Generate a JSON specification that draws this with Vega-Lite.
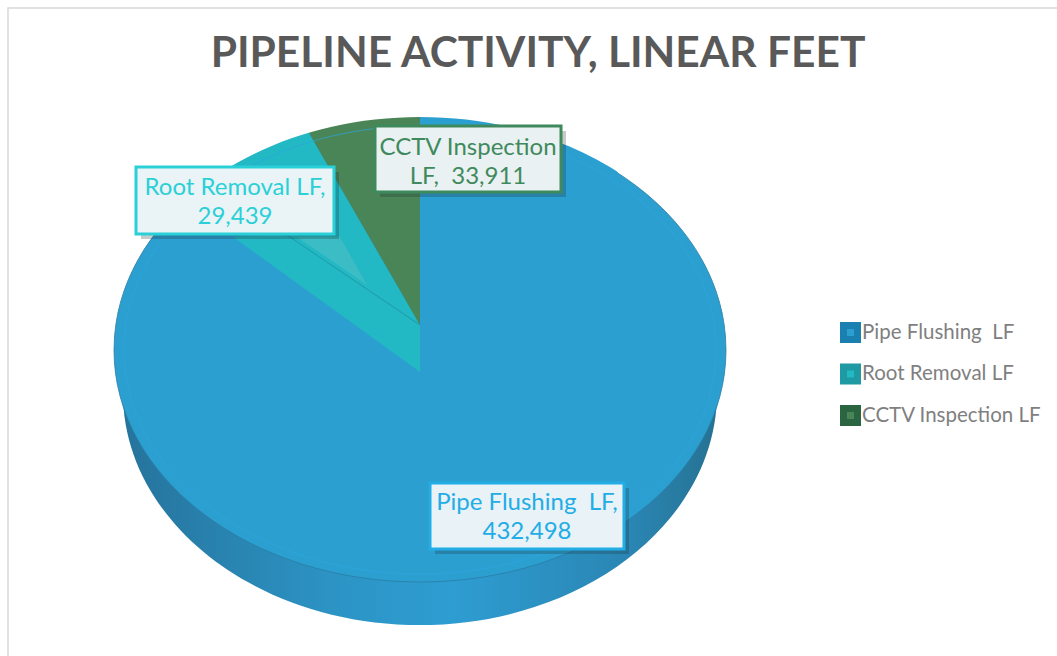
{"$schema":"https://vega.github.io/schema/vega-lite/v6.json","width":840,"height":474,"autosize":"none","padding":{"left":0,"top":88,"right":217,"bottom":94},"background":"#ffffff","view":{"stroke":null},
"title":{"text":"PIPELINE ACTIVITY, LINEAR FEET","font":"Lato","fontSize":42.5,"fontWeight":"bold","color":"#595959","anchor":"middle","frame":"group","dx":118,"offset":-113,"baseline":"bottom"},
"data":{"values":[{"slice":"Pipe Flushing \u00a0LF","lf":432498,"rank":3,"label":"Pipe Flushing \u00a0LF,\n432,498"},{"slice":"Root Removal LF","lf":29439,"rank":2,"label":"Root Removal LF,\n29,439"},{"slice":"CCTV Inspection LF","lf":33911,"rank":1,"label":"CCTV Inspection\nLF, \u00a033,911"}]},
"layer":[
{"transform":[{"filter":{"field":"rank","equal":3}}],"mark":{"type":"point","filled":true,"opacity":1,"size":4,"shape":"M-306,23 L-297,68 A297,232 0 0 0 297,68 L306,23 Z","fill":{"x1":0,"y1":0,"x2":1,"y2":0,"gradient":"linear","stops":[{"offset":0,"color":"#25729a"},{"offset":0.35,"color":"#2c93c4"},{"offset":0.55,"color":"#2e9dd2"},{"offset":0.85,"color":"#2a85b2"},{"offset":1,"color":"#25708f"}]}}},
{"transform":[{"filter":{"field":"rank","equal":3}}],"mark":{"type":"point","filled":true,"opacity":1,"size":4,"fill":"#2c9fd1","stroke":"#2b7ca3","strokeWidth":0.8,"shape":"M-306,25 A306,232 0 1 1 306,25 A306,232 0 1 1 -306,25 Z"}},
{"mark":{"type":"arc","outerRadius":250,"strokeWidth":0,"opacity":1},"encoding":{"theta":{"field":"lf","type":"quantitative","stack":true,"scale":{"domain":[0,495848],"range":[0,-7.665]}},"order":{"field":"rank","type":"quantitative"},"fill":{"field":"slice","type":"nominal","sort":null,"scale":{"domain":["Pipe Flushing \u00a0LF","Root Removal LF","CCTV Inspection LF"],"range":["#2c9fd1","#22b8c4","#4a8558"]},"legend":{"title":null,"orient":"none","legendX":840,"legendY":234,"symbolType":"square","symbolSize":196,"symbolStrokeWidth":7,"labelFont":"Lato","labelFontSize":20.5,"labelColor":"#7f7f7f","labelOffset":1,"rowPadding":-1.5,"labelLimit":220}},"stroke":{"field":"slice","type":"nominal","sort":null,"scale":{"domain":["Pipe Flushing \u00a0LF","Root Removal LF","CCTV Inspection LF"],"range":["#1a80b0","#1f9aa3","#2b6440"]}}}},
{"transform":[{"filter":{"field":"rank","equal":3}}],"mark":{"type":"point","filled":true,"opacity":1,"size":4,"fill":"#ffffff","shape":"M-307,25 A307,233 0 0 1 307,25 L307,-255 L-307,-255 Z"}},
{"transform":[{"filter":{"field":"rank","equal":2}}],"mark":{"type":"point","filled":true,"opacity":1,"size":4,"fill":"#22b8c4","shape":"M0,47 L0,0 L-136,-92 L-187,-88 Z"}},
{"transform":[{"filter":{"field":"rank","equal":2}}],"mark":{"type":"point","filled":true,"opacity":1,"size":4,"fill":"#3cbcc4","shape":"M-123,-88 L-80,-88 L-53,-40 Z"}},
{"transform":[{"filter":{"field":"rank","equal":2}}],"mark":{"type":"point","filled":false,"opacity":0.6,"size":4,"stroke":"#1f8a94","strokeWidth":1,"shape":"M0,0 L-136,-92"}},
{"transform":[{"filter":{"field":"rank","equal":3}}],"mark":{"type":"point","filled":false,"opacity":0.7,"size":4,"stroke":"#2ba8df","strokeWidth":1,"shape":"M-296,25 A296,224 0 0 1 296,25 A296,224 0 0 1 -296,25 Z"}},
{"transform":[{"filter":{"field":"rank","equal":3}}],"mark":{"type":"point","filled":false,"opacity":1,"size":4,"stroke":"#d9d9d9","strokeWidth":1.5,"shape":"M-412,331 L-412,-317 L637,-317"}},
{"transform":[{"filter":{"field":"rank","equal":3}}],"mark":{"type":"point","filled":true,"opacity":0.25,"size":4,"fill":"#1a2a30","shape":"M-279,-153 L-81,-153 L-81,-86 L-279,-86 Z M-40,-194 L146,-194 L146,-128 L-40,-128 Z M15,163 L209,163 L209,229 L15,229 Z"}},
{"transform":[{"filter":{"field":"rank","equal":2}}],"mark":{"type":"point","filled":true,"opacity":1,"size":4,"fill":"#eaf3f6","stroke":"#2ad0d8","strokeWidth":3,"shape":"M-284,-158 L-86,-158 L-86,-91 L-284,-91 Z"}},
{"transform":[{"filter":{"field":"rank","equal":1}}],"mark":{"type":"point","filled":true,"opacity":1,"size":4,"fill":"#eaf1f3","stroke":"#3f8a5c","strokeWidth":3,"shape":"M-45,-199 L141,-199 L141,-133 L-45,-133 Z"}},
{"transform":[{"filter":{"field":"rank","equal":3}}],"mark":{"type":"point","filled":true,"opacity":1,"size":4,"fill":"#e9f2f6","stroke":"#22ade6","strokeWidth":3,"shape":"M10,158 L204,158 L204,224 L10,224 Z"}},
{"transform":[{"filter":{"field":"rank","equal":2}}],"mark":{"type":"text","font":"Lato","fontSize":24,"lineBreak":"\n","lineHeight":29,"align":"center","baseline":"middle","dx":-185,"dy":-137,"color":"#2ad0d8"},"encoding":{"text":{"field":"label","type":"nominal"}}},
{"transform":[{"filter":{"field":"rank","equal":1}}],"mark":{"type":"text","font":"Lato","fontSize":24,"lineBreak":"\n","lineHeight":29,"align":"center","baseline":"middle","dx":48,"dy":-177,"color":"#3f8a5c"},"encoding":{"text":{"field":"label","type":"nominal"}}},
{"transform":[{"filter":{"field":"rank","equal":3}}],"mark":{"type":"text","font":"Lato","fontSize":24,"lineBreak":"\n","lineHeight":29,"align":"center","baseline":"middle","dx":107,"dy":178,"color":"#22ade6"},"encoding":{"text":{"field":"label","type":"nominal"}}}
]}
